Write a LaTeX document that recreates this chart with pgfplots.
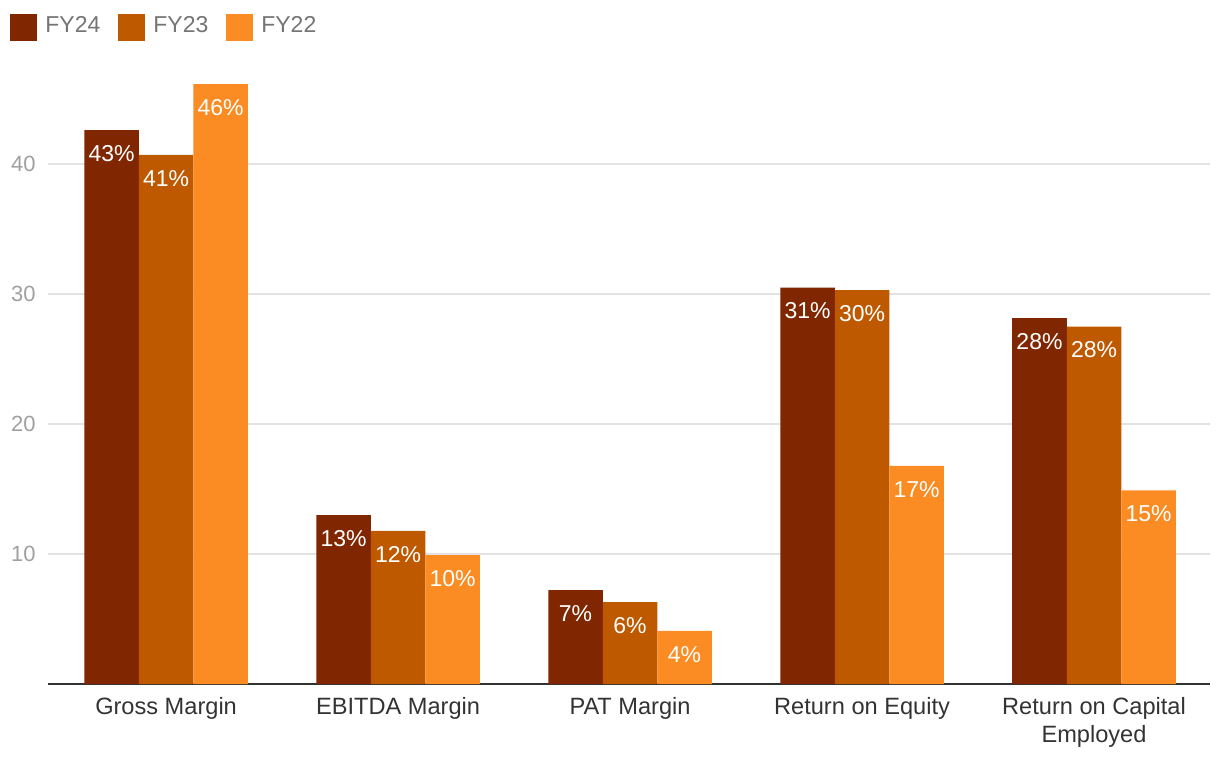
\documentclass[border=0pt]{standalone}
\usepackage{pgfplots}
\pgfplotsset{compat=1.18}
\usepackage{fontspec}
\setmainfont{Liberation Sans}
\definecolor{cFYa}{HTML}{802600}
\definecolor{cFYb}{HTML}{BF5900}
\definecolor{cFYc}{HTML}{FB8C23}
\definecolor{gridgray}{HTML}{E3E3E3}
\definecolor{ticktxt}{HTML}{A0A0A0}
\definecolor{legtxt}{HTML}{757575}
\definecolor{axisdark}{HTML}{333333}
\begin{document}
\begin{tikzpicture}
\useasboundingbox (0,0) rectangle (610pt,384pt);
\begin{axis}[
  at={(24pt,42pt)}, anchor=south west,
  scale only axis, width=581pt, height=305.5pt,
  xmin=-0.509, xmax=4.5, ymin=0, ymax=47,
  ybar, bar shift=0pt, bar width=0.235,
  axis x line*=bottom, axis y line*=left,
  y axis line style={draw=none},
  x axis line style={draw=axisdark, line width=1pt},
  xtick={0,1,2,3,4},
  xticklabels={Gross Margin, EBITDA Margin, PAT Margin, Return on Equity, {Return on Capital\\Employed}},
  xticklabel style={align=center, inner sep=0pt, yshift=-6.5pt, text=axisdark, font=\fontsize{11.8}{14}\selectfont},
  ytick={10,20,30,40},
  yticklabel style={inner sep=0pt, xshift=-6pt, text=ticktxt, font=\fontsize{11}{13}\selectfont},
  /pgf/number format/assume math mode=true,
  major tick length=0pt,
  ymajorgrids, grid style={gridgray, line width=1pt},
  point meta=explicit symbolic,
  nodes near coords={\pgfplotspointmeta\%},
  nodes near coords align={anchor=north},
  every node near coord/.append style={inner sep=0pt, yshift=-7.5pt, text=white, font=\fontsize{11.5}{13}\selectfont},
  legend style={at={(axis description cs:-0.0327,1.0966)}, anchor=north west, draw=none, inner sep=0pt,
    legend columns=3,
    nodes={inner sep=0pt, text=legtxt, font=\fontsize{11.5}{13}\selectfont},
    /tikz/every odd column/.append style={column sep=4pt},
    /tikz/every even column/.append style={column sep=9pt}},
  legend image code/.code={\fill[#1] (0pt,-7.5pt) rectangle (13.5pt,6pt);},
]
\addplot[fill=cFYa, draw=none] coordinates {(-0.235,42.6)[43] (0.765,13.0)[13] (1.765,7.23)[7] (2.765,30.5)[31] (3.765,28.15)[28]};
\addplot[fill=cFYb, draw=none] coordinates {(0,40.7)[41] (1,11.77)[12] (2,6.3)[6] (3,30.3)[30] (4,27.5)[28]};
\addplot[fill=cFYc, draw=none] coordinates {(0.235,46.15)[46] (1.235,9.92)[10] (2.235,4.08)[4] (3.235,16.77)[17] (4.235,14.9)[15]};
\legend{FY24, FY23, FY22}
\end{axis}
\end{tikzpicture}
\end{document}
